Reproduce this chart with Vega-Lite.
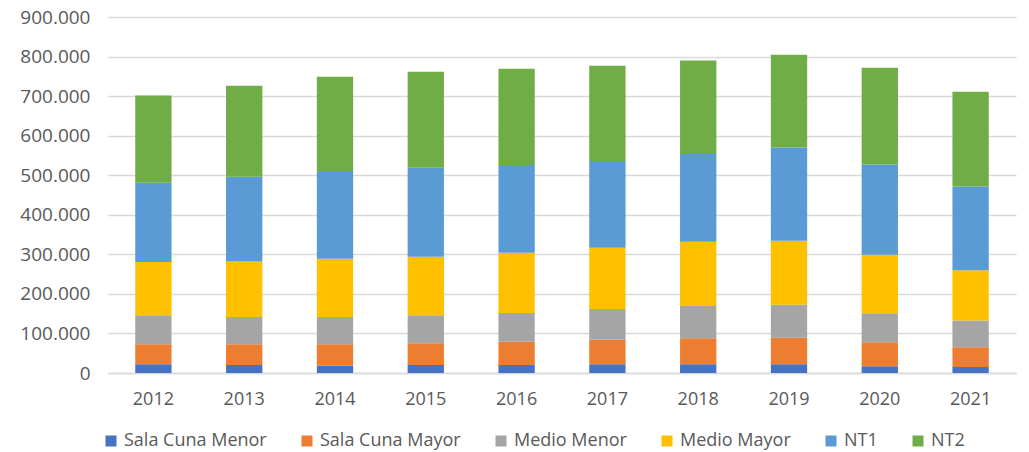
{
  "$schema": "https://vega.github.io/schema/vega-lite/v6.json",
  "autosize": {"type": "none"},
  "width": 908,
  "height": 356,
  "padding": {"left": 108, "top": 17, "right": 13, "bottom": 79},
  "background": "white",
  "config": {
    "view": {"stroke": null},
    "font": "Open Sans",
    "axis": {"labelColor": "#595959", "labelFont": "Open Sans", "labelFontSize": 18, "gridColor": "#d9d9d9", "gridWidth": 1.5, "domainColor": "#d9d9d9", "domainWidth": 1.5, "ticks": false, "title": null},
    "legend": {"labelColor": "#595959", "labelFont": "Open Sans", "labelFontSize": 18}
  },
  "data": {"values": [
    {"year": "2012", "level": "Sala Cuna Menor", "k": 1, "v": 21900},
    {"year": "2012", "level": "Sala Cuna Mayor", "k": 2, "v": 50600},
    {"year": "2012", "level": "Medio Menor", "k": 3, "v": 73200},
    {"year": "2012", "level": "Medio Mayor", "k": 4, "v": 134800},
    {"year": "2012", "level": "NT1", "k": 5, "v": 200500},
    {"year": "2012", "level": "NT2", "k": 6, "v": 220800},
    {"year": "2013", "level": "Sala Cuna Menor", "k": 1, "v": 20000},
    {"year": "2013", "level": "Sala Cuna Mayor", "k": 2, "v": 52500},
    {"year": "2013", "level": "Medio Menor", "k": 3, "v": 69000},
    {"year": "2013", "level": "Medio Mayor", "k": 4, "v": 140500},
    {"year": "2013", "level": "NT1", "k": 5, "v": 214000},
    {"year": "2013", "level": "NT2", "k": 6, "v": 230000},
    {"year": "2014", "level": "Sala Cuna Menor", "k": 1, "v": 18500},
    {"year": "2014", "level": "Sala Cuna Mayor", "k": 2, "v": 54000},
    {"year": "2014", "level": "Medio Menor", "k": 3, "v": 69000},
    {"year": "2014", "level": "Medio Mayor", "k": 4, "v": 147500},
    {"year": "2014", "level": "NT1", "k": 5, "v": 219000},
    {"year": "2014", "level": "NT2", "k": 6, "v": 241000},
    {"year": "2015", "level": "Sala Cuna Menor", "k": 1, "v": 20000},
    {"year": "2015", "level": "Sala Cuna Mayor", "k": 2, "v": 55000},
    {"year": "2015", "level": "Medio Menor", "k": 3, "v": 70700},
    {"year": "2015", "level": "Medio Mayor", "k": 4, "v": 148300},
    {"year": "2015", "level": "NT1", "k": 5, "v": 225000},
    {"year": "2015", "level": "NT2", "k": 6, "v": 242600},
    {"year": "2016", "level": "Sala Cuna Menor", "k": 1, "v": 20000},
    {"year": "2016", "level": "Sala Cuna Mayor", "k": 2, "v": 59000},
    {"year": "2016", "level": "Medio Menor", "k": 3, "v": 72600},
    {"year": "2016", "level": "Medio Mayor", "k": 4, "v": 152400},
    {"year": "2016", "level": "NT1", "k": 5, "v": 221700},
    {"year": "2016", "level": "NT2", "k": 6, "v": 243300},
    {"year": "2017", "level": "Sala Cuna Menor", "k": 1, "v": 22000},
    {"year": "2017", "level": "Sala Cuna Mayor", "k": 2, "v": 62000},
    {"year": "2017", "level": "Medio Menor", "k": 3, "v": 77800},
    {"year": "2017", "level": "Medio Mayor", "k": 4, "v": 155000},
    {"year": "2017", "level": "NT1", "k": 5, "v": 219000},
    {"year": "2017", "level": "NT2", "k": 6, "v": 241000},
    {"year": "2018", "level": "Sala Cuna Menor", "k": 1, "v": 22000},
    {"year": "2018", "level": "Sala Cuna Mayor", "k": 2, "v": 65600},
    {"year": "2018", "level": "Medio Menor", "k": 3, "v": 81700},
    {"year": "2018", "level": "Medio Mayor", "k": 4, "v": 162700},
    {"year": "2018", "level": "NT1", "k": 5, "v": 221500},
    {"year": "2018", "level": "NT2", "k": 6, "v": 236500},
    {"year": "2019", "level": "Sala Cuna Menor", "k": 1, "v": 22000},
    {"year": "2019", "level": "Sala Cuna Mayor", "k": 2, "v": 67300},
    {"year": "2019", "level": "Medio Menor", "k": 3, "v": 83400},
    {"year": "2019", "level": "Medio Mayor", "k": 4, "v": 161800},
    {"year": "2019", "level": "NT1", "k": 5, "v": 235900},
    {"year": "2019", "level": "NT2", "k": 6, "v": 234100},
    {"year": "2020", "level": "Sala Cuna Menor", "k": 1, "v": 16800},
    {"year": "2020", "level": "Sala Cuna Mayor", "k": 2, "v": 60700},
    {"year": "2020", "level": "Medio Menor", "k": 3, "v": 73300},
    {"year": "2020", "level": "Medio Mayor", "k": 4, "v": 148200},
    {"year": "2020", "level": "NT1", "k": 5, "v": 228400},
    {"year": "2020", "level": "NT2", "k": 6, "v": 244300},
    {"year": "2021", "level": "Sala Cuna Menor", "k": 1, "v": 15200},
    {"year": "2021", "level": "Sala Cuna Mayor", "k": 2, "v": 49700},
    {"year": "2021", "level": "Medio Menor", "k": 3, "v": 68100},
    {"year": "2021", "level": "Medio Mayor", "k": 4, "v": 126500},
    {"year": "2021", "level": "NT1", "k": 5, "v": 212300},
    {"year": "2021", "level": "NT2", "k": 6, "v": 239200}
  ]},
  "mark": {"type": "bar"},
  "encoding": {
    "x": {"field": "year", "type": "nominal", "scale": {"paddingInner": 0.6, "paddingOuter": 0.3},
      "axis": {"labelAngle": 0, "labelPadding": 17, "grid": false, "domain": true}},
    "y": {"field": "v", "type": "quantitative", "stack": "zero",
      "scale": {"domain": [0, 900000], "nice": false},
      "axis": {"values": [0, 100000, 200000, 300000, 400000, 500000, 600000, 700000, 800000, 900000], "labelExpr": "replace(format(datum.value, ','), ',', '.')", "labelPadding": 18, "labelFontSize": 19, "domain": false, "grid": true}},
    "order": {"field": "k", "type": "quantitative", "sort": "ascending"},
    "color": {"field": "level", "type": "nominal",
      "scale": {"domain": ["Sala Cuna Menor", "Sala Cuna Mayor", "Medio Menor", "Medio Mayor", "NT1", "NT2"],
        "range": ["#4472C4", "#ED7D31", "#A5A5A5", "#FFC000", "#5B9BD5", "#70AD47"]},
      "legend": {"title": null, "orient": "none", "direction": "horizontal", "legendX": -6, "legendY": 415, "symbolType": "square", "symbolSize": 121, "symbolStrokeWidth": 0, "labelOffset": 4, "columnPadding": 31}}
  }
}
